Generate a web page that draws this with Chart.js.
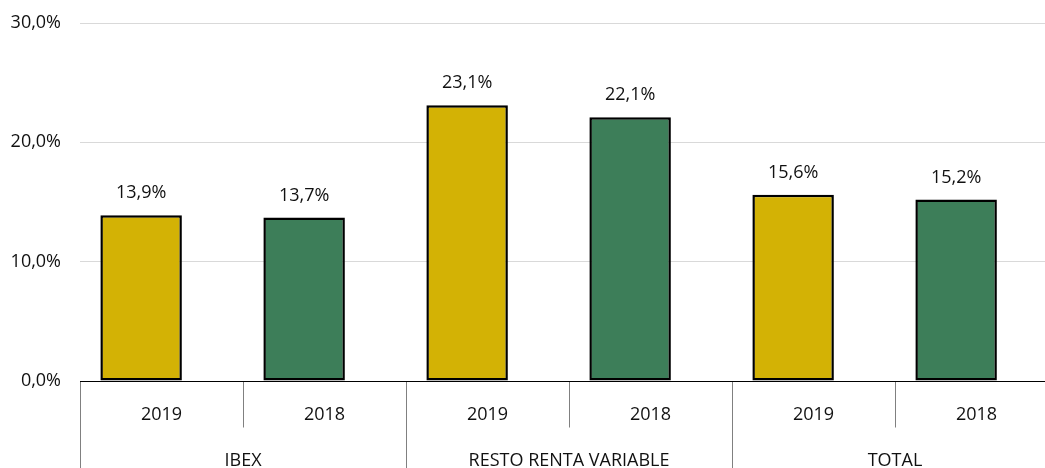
<!DOCTYPE html>
<html>
<head>
<meta charset="utf-8">
<script src="https://cdn.jsdelivr.net/npm/chart.js@4/dist/chart.umd.min.js"></script>
<style>
  html, body { margin: 0; padding: 0; background: #fff; overflow: hidden; }
  #wrap { width: 1060px; height: 468px; }
</style>
</head>
<body>
<div id="wrap"><canvas id="myChart" width="1060" height="468"></canvas></div>
<script>
// grupos y años del eje x
var grupos = ["IBEX", "RESTO RENTA VARIABLE", "TOTAL"];
var anios = ["2019", "2018"];
// porcentaje por grupo, en el orden de anios
var ibex = [13.9, 13.7];
var restoRV = [23.1, 22.1];
var total = [15.6, 15.2];
var yTicks = [0, 10, 20, 30];

var colores = { "2019": "#D3B205", "2018": "#3D7E59" };
var fuente = '"Open Sans", sans-serif';

var etiquetas = [];
var valores = [];
var fondo = [];
[ibex, restoRV, total].forEach(function(serie, g) {
    serie.forEach(function(v, i) {
        etiquetas.push(grupos[g] + " " + anios[i]);
        valores.push(v);
        fondo.push(colores[anios[i]]);
    });
});

function pct(v) {
    return v.toFixed(1).replace(".", ",") + "%";
}

// las barras van desplazadas a la izquierda dentro de su categoría
var desplazarBarras = {
    id: "desplazarBarras",
    afterDatasetsUpdate: function(chart) {
        var x = chart.scales.x;
        var ancho = x.width / etiquetas.length;
        chart.getDatasetMeta(0).data.forEach(function(el) {
            el.x -= ancho * 0.125;
        });
    }
};

// valores encima de cada barra
var rotulos = {
    id: "rotulos",
    afterDatasetsDraw: function(chart) {
        var ctx = chart.ctx;
        ctx.save();
        ctx.font = "18px " + fuente;
        ctx.fillStyle = "#111";
        ctx.textAlign = "center";
        ctx.textBaseline = "middle";
        chart.getDatasetMeta(0).data.forEach(function(el, i) {
            ctx.fillText(pct(valores[i]), el.x, el.y - 22);
        });
        ctx.restore();
    }
};

// eje x en dos niveles: año y grupo
var ejeX = {
    id: "ejeX",
    afterDraw: function(chart) {
        var ctx = chart.ctx;
        var x = chart.scales.x;
        var area = chart.chartArea;
        var ancho = x.width / etiquetas.length;
        var base = Math.round(area.bottom) + 0.5;
        ctx.save();

        ctx.strokeStyle = "#808080";
        ctx.lineWidth = 1;
        for (var i = 0; i <= etiquetas.length; i++) {
            var px = Math.round(x.left + ancho * i) + 0.5;
            ctx.beginPath();
            ctx.moveTo(px, base);
            ctx.lineTo(px, i % anios.length === 0 ? chart.height : base + 46);
            ctx.stroke();
        }

        ctx.strokeStyle = "#000";
        ctx.beginPath();
        ctx.moveTo(area.left, base);
        ctx.lineTo(area.right, base);
        ctx.stroke();

        ctx.font = "18px " + fuente;
        ctx.fillStyle = "#111";
        ctx.textAlign = "center";
        ctx.textBaseline = "middle";
        etiquetas.forEach(function(e, i) {
            ctx.fillText(anios[i % anios.length], x.getPixelForValue(i), base + 33);
        });
        grupos.forEach(function(g, k) {
            ctx.fillText(g, x.left + ancho * anios.length * (k + 0.5), base + 79);
        });
        ctx.restore();
    }
};

var ctx = document.getElementById("myChart").getContext("2d");
var chart = new Chart(ctx, {
    type: "bar",
    data: {
        labels: etiquetas,
        datasets: [{
            data: valores,
            backgroundColor: fondo,
            borderColor: "#000",
            borderWidth: 2.5,
            borderSkipped: false,
            barPercentage: 0.5,
            categoryPercentage: 1
        }]
    },
    options: {
        responsive: false,
        animation: false,
        layout: { padding: { top: 23, right: 2, bottom: 87, left: 0 } },
        plugins: {
            legend: { display: false },
            tooltip: { enabled: false }
        },
        scales: {
            x: { display: false },
            y: {
                min: 0,
                max: 30,
                afterBuildTicks: function(scale) {
                    scale.ticks = yTicks.map(function(v) { return { value: v }; });
                },
                afterFit: function(scale) {
                    scale.width = 80;
                    scale.paddingTop = 0;
                    scale.paddingBottom = 0;
                },
                border: { display: false },
                grid: {
                    drawTicks: false,
                    color: function(c) { return c.tick && c.tick.value === 0 ? "rgba(0,0,0,0)" : "#d9d9d9"; }
                },
                ticks: {
                    padding: 19,
                    color: "#111",
                    font: { family: fuente, size: 18 },
                    callback: function(v) { return pct(v); }
                }
            }
        }
    },
    plugins: [desplazarBarras, rotulos, ejeX]
});
</script>
</body>
</html>
